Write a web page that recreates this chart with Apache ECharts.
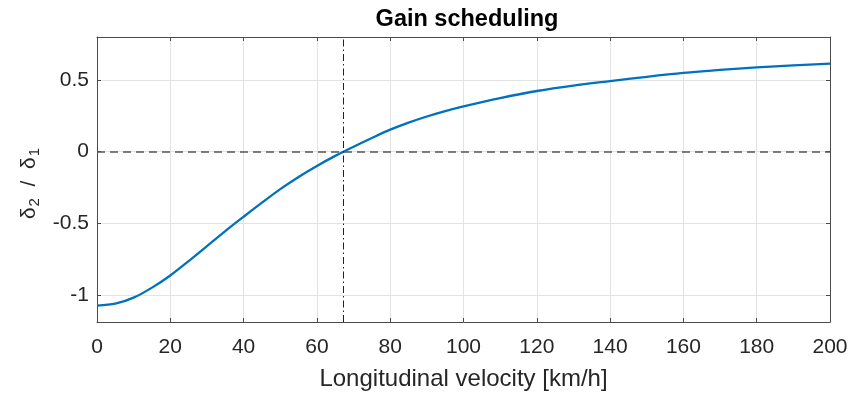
<!DOCTYPE html>
<html>
<head>
<meta charset="utf-8">
<script src="https://cdn.jsdelivr.net/npm/echarts@6/dist/echarts.min.js"></script>
<style>html,body{margin:0;padding:0;background:#fff}#c{width:850px;height:394px}</style>
</head>
<body>
<div id="c"></div>
<script>
const velocity = [0,5,10,15,20,25,30,35,40,45,50,55,60,65,70,75,80,85,90,95,100,110,120,130,140,150,160,170,180,190,200];
const gainRatio = [-1.075,-1.062,-1.02,-0.95,-0.865,-0.765,-0.66,-0.555,-0.455,-0.357,-0.262,-0.177,-0.1,-0.03,0.034,0.095,0.153,0.202,0.245,0.283,0.316,0.374,0.423,0.461,0.492,0.522,0.549,0.57,0.588,0.602,0.614];
const crossingSpeed = 67.3;
const xTicks = [0,20,40,60,80,100,120,140,160,180,200];
const yTicks = [-1,-0.5,0,0.5];
const yMin = -1.19, yMax = 0.8;

const font = '"Liberation Sans", Arial, Helvetica, sans-serif';
const axisColor = '#4a4a4a';
const textColor = '#262626';
const gridColor = '#e3e3e3';

const chart = echarts.init(document.getElementById('c'), null, {renderer:'canvas'});
chart.setOption({
  animation:false,
  backgroundColor:'#fff',
  title:{text:'Gain scheduling', left:462, top:3, textAlign:'center',
    textStyle:{fontFamily:font, fontSize:23.5, fontWeight:'bold', color:'#000'}},
  grid:{left:97, right:20, top:37, bottom:72, containLabel:false, outerBoundsMode:'none'},
  xAxis:[{
    type:'value', min:0, max:200, interval:20, position:'bottom',
    name:'Longitudinal velocity [km/h]', nameLocation:'middle', nameGap:45,
    nameTextStyle:{fontFamily:font, fontSize:24, color:textColor},
    axisLine:{show:true, onZero:false, lineStyle:{color:axisColor, width:1}},
    axisTick:{show:true, inside:true, length:4, lineStyle:{color:axisColor}},
    axisLabel:{fontFamily:font, fontSize:21, color:textColor, margin:15,
      formatter:v=>xTicks.includes(v)?String(v):''},
    splitLine:{show:true, lineStyle:{color:gridColor, width:1}}
  },{
    type:'value', min:0, max:200, interval:20, position:'top',
    axisLine:{show:true, onZero:false, lineStyle:{color:axisColor, width:1}},
    axisTick:{show:true, inside:true, length:4, lineStyle:{color:axisColor}},
    axisLabel:{show:false}, splitLine:{show:false}
  }],
  yAxis:[{
    type:'value', min:yMin, max:yMax, splitNumber:4, position:'left',
    name:'{m|δ}{s|2}{m|  /  δ}{s|1}', nameLocation:'middle', nameGap:49,
    nameTextStyle:{fontFamily:font, fontSize:21, color:textColor, padding:[0,8,0,0],
      rich:{m:{fontFamily:font, fontSize:21, color:textColor, lineHeight:26, verticalAlign:'middle'},
            s:{fontFamily:font, fontSize:15, color:textColor, lineHeight:15, verticalAlign:'bottom', padding:[9,0,0,1]}}},
    axisLine:{show:true, onZero:false, lineStyle:{color:axisColor, width:1}},
    axisTick:{show:true, inside:true, length:4, lineStyle:{color:axisColor}},
    axisLabel:{fontFamily:font, fontSize:21, color:textColor, margin:8, showMinLabel:false, showMaxLabel:false,
      formatter:v=>{const r=Math.round(v*100)/100; return yTicks.includes(r)?String(r):'';}},
    splitLine:{show:true, lineStyle:{color:gridColor, width:1}}
  },{
    type:'value', min:yMin, max:yMax, splitNumber:4, position:'right',
    axisLine:{show:true, onZero:false, lineStyle:{color:axisColor, width:1}},
    axisTick:{show:true, inside:true, length:4, lineStyle:{color:axisColor}},
    axisLabel:{show:false}, splitLine:{show:false}
  }],
  series:[{
    type:'line', xAxisIndex:0, yAxisIndex:0,
    data: velocity.map((v,i)=>[v, gainRatio[i]]),
    smooth:0.3, showSymbol:false, symbol:'none',
    lineStyle:{color:'#0072BD', width:2.3},
    z:3,
    markLine:{
      silent:true, symbol:'none', label:{show:false}, animation:false,
      data:[
        {yAxis:0, lineStyle:{color:'#555', width:1.5, type:[8,5]}},
        {xAxis:crossingSpeed, lineStyle:{color:'#222', width:1, type:[7,3,1.5,3]}}
      ]
    }
  }]
});
</script>
</body>
</html>
